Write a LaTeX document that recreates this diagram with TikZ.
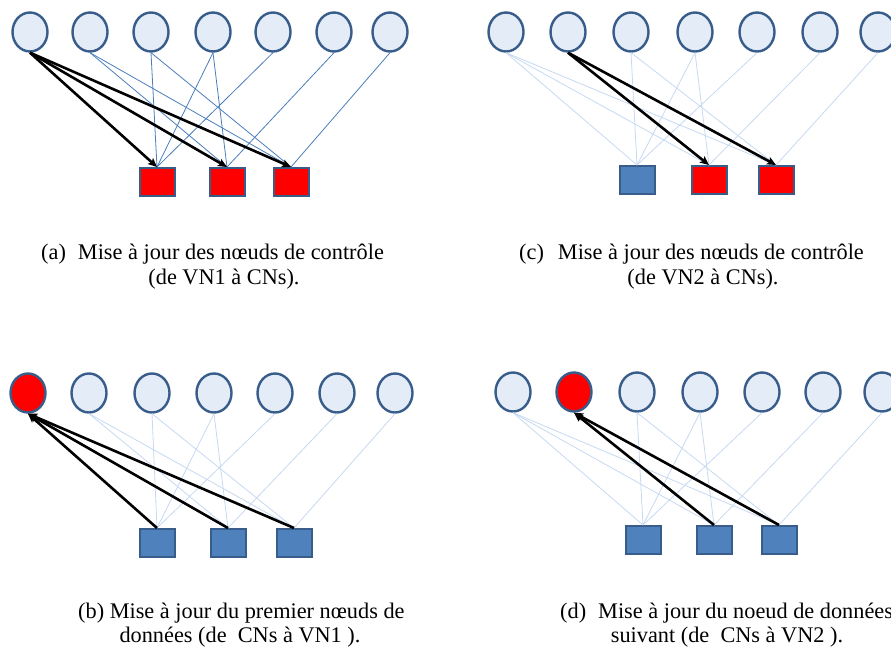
\documentclass[tikz,border=0pt]{standalone}
\usepackage{fontspec}
\setmainfont{Liberation Serif}
\usetikzlibrary{shapes.geometric,arrows.meta}

\definecolor{vnfill}{RGB}{228,236,247}
\definecolor{nodeline}{RGB}{56,93,138}
\definecolor{cnblue}{RGB}{79,129,189}
\definecolor{edgeblue}{RGB}{74,126,187}
\definecolor{edgelight}{RGB}{198,217,241}
\definecolor{active}{RGB}{255,0,0}

\tikzset{
  vn/.style={ellipse, draw=nodeline, line width=2.4pt, fill=vnfill,
             minimum width=35pt, minimum height=39pt, inner sep=0pt},
  cn/.style={rectangle, draw=nodeline, line width=2pt, fill=cnblue,
             minimum width=35pt, minimum height=28pt, inner sep=0pt},
  hot/.style={fill=active},
  plainedge/.style={draw=edgeblue, line width=0.8pt},
  faintedge/.style={draw=edgelight, line width=0.8pt},
  msg/.style={draw=black, line width=2.6pt,
              -{Stealth[length=9pt,width=8pt,inset=2pt]}},
  caption/.style={font=\fontsize{22.3}{25}\selectfont, inner sep=0pt}
}

\begin{document}
\begin{tikzpicture}[x=1pt,y=-1pt]
\useasboundingbox (0,0) rectangle (891,648);

% ---------- (a) check node update from VN1 ----------
\foreach \x [count=\i] in {30,90,151,213,273,334,390}
  \node[vn] (a-v\i) at (\x,32) {};
\foreach \x [count=\i] in {157,227,291}
  \node[cn,hot] (a-c\i) at (\x,182) {};
\foreach \v/\c in {2/2,2/3,3/1,3/3,4/1,4/2,5/1,6/2,7/3}
  \draw[plainedge] (a-v\v.south) -- (a-c\c.north);
\foreach \c in {1,2,3}
  \draw[msg] (a-v1.south) -- (a-c\c.north);

% ---------- (c) check node update from VN2 ----------
\foreach \x [count=\i] in {506,568,631,695,757,820,878}
  \node[vn] (c-v\i) at (\x,32) {};
\node[cn] (c-c1) at (637,180) {};
\node[cn,hot] (c-c2) at (709,180) {};
\node[cn,hot] (c-c3) at (776,180) {};
\foreach \v/\c in {1/1,1/2,1/3,3/1,3/3,4/1,4/2,5/1,6/2,7/3}
  \draw[faintedge] (c-v\v.south) -- (c-c\c.north);
\foreach \c in {2,3}
  \draw[msg] (c-v2.south) -- (c-c\c.north);

% ---------- (b) variable node VN1 update ----------
\node[vn,hot] (b-v1) at (28,393) {};
\foreach \x [count=\i from 2] in {89,152,214,275,337,395}
  \node[vn] (b-v\i) at (\x,393) {};
\foreach \x [count=\i] in {157,228,294}
  \node[cn] (b-c\i) at (\x,543) {};
\foreach \v/\c in {2/2,2/3,3/1,3/3,4/1,4/2,5/1,6/2,7/3}
  \draw[faintedge] (b-v\v.south) -- (b-c\c.north);
\foreach \c in {1,2,3}
  \draw[msg] (b-c\c.north) -- (b-v1.south);

% ---------- (d) variable node VN2 update ----------
\node[vn] (d-v1) at (513,392) {};
\node[vn,hot] (d-v2) at (574,392) {};
\foreach \x [count=\i from 3] in {637,700,762,823,882}
  \node[vn] (d-v\i) at (\x,392) {};
\foreach \x [count=\i] in {643,714,779}
  \node[cn] (d-c\i) at (\x,540) {};
\foreach \v/\c in {1/1,1/2,1/3,3/1,3/3,4/1,4/2,5/1,6/2,7/3}
  \draw[faintedge] (d-v\v.south) -- (d-c\c.north);
\foreach \c in {2,3}
  \draw[msg] (d-c\c.north) -- (d-v2.south);

% ---------- captions ----------
\node[caption, anchor=base west] (cap-a1) at (41,259)
  {(a)\hspace{12pt}Mise à jour des nœuds de contrôle};
\node[caption, anchor=base] (cap-a2) at (224,284) {(de VN1 à CNs).};
\node[caption, anchor=base west] (cap-c1) at (519,259)
  {(c)\hspace{14pt}Mise à jour des nœuds de contrôle};
\node[caption, anchor=base] (cap-c2) at (703,284) {(de VN2 à CNs).};
\node[caption, anchor=base west] (cap-b1) at (78,618)
  {(b) Mise à jour du premier nœuds de};
\node[caption, anchor=base] (cap-b2) at (240,642) {données (de~ CNs à VN1 ).};
\node[caption, anchor=base west] (cap-d1) at (560,618)
  {(d)\hspace{12pt}Mise à jour du noeud de données};
\node[caption, anchor=base] (cap-d2) at (727,642) {suivant (de~ CNs à VN2 ).};
\end{tikzpicture}
\end{document}
